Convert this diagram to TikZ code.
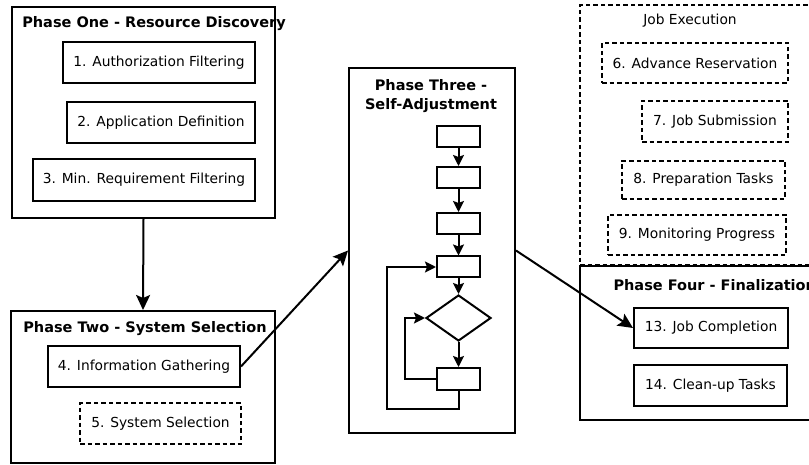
\documentclass[tikz,border=0pt]{standalone}
\usepackage{fontspec}
\setmainfont{DejaVu Sans}
\usetikzlibrary{arrows.meta,shapes.geometric}

\begin{document}
\begin{tikzpicture}[x=1pt, y=-1pt, line join=miter,
    every node/.style={font=\fontsize{13.8}{16}\selectfont},
    phase/.style={draw, line width=2pt, inner sep=0pt},
    task/.style={draw, line width=2pt, inner sep=0pt},
    optTask/.style={task, dash pattern=on 4.5pt off 3pt},
    title/.style={font=\fontsize{14.5}{19}\selectfont\bfseries},
    flow/.style={draw, line width=2pt, minimum width=43pt, minimum height=21pt, inner sep=0pt},
    link/.style={line width=2pt, -{Stealth[length=15pt,width=14pt,inset=3pt]}},
    flowLink/.style={line width=2pt, -{Stealth[length=11pt,width=11pt,inset=2pt]}}]
    \clip (0,0) rectangle (809,465);

    % Phase One
    \node[phase, minimum width=263pt, minimum height=211pt] (phaseOne) at (143.5,112.5) {};
    \node[title] (titleOne) at (154,24) {Phase One - Resource Discovery};
    \node[task, minimum width=192pt, minimum height=41pt] (authFilter) at (159,62.5) {1. Authorization Filtering};
    \node[task, minimum width=188pt, minimum height=41pt] (appDef) at (161,122.5) {2. Application Definition};
    \node[task, minimum width=222pt, minimum height=42pt] (minReq) at (144,180) {3. Min. Requirement Filtering};

    % Phase Two
    \node[phase, minimum width=264pt, minimum height=152pt] (phaseTwo) at (143,387) {};
    \node[title] (titleTwo) at (145,329) {Phase Two - System Selection};
    \node[task, minimum width=192pt, minimum height=41pt] (infoGather) at (144,366.5) {4. Information Gathering};
    \node[optTask, minimum width=161pt, minimum height=41pt] (sysSelect) at (160.5,423.5) {5. System Selection};

    % Phase Three
    \node[phase, minimum width=166pt, minimum height=365pt] (phaseThree) at (432,250.5) {};
    \node[title, align=center] (titleThree) at (431,96.5) {Phase Three -\\Self-Adjustment};
    \node[flow] (stepA) at (458.5,136.5) {};
    \node[flow] (stepB) at (458.5,177.5) {};
    \node[flow] (stepC) at (458.5,223.5) {};
    \node[flow] (stepD) at (458.5,267) {};
    \node[draw, diamond, line width=2pt, minimum width=65pt, minimum height=46pt, inner sep=0pt] (check) at (458.5,318) {};
    \node[flow, minimum height=22pt] (stepE) at (458.5,379) {};
    \draw[flowLink] (stepA) -- (stepB);
    \draw[flowLink] (stepB) -- (stepC);
    \draw[flowLink] (stepC) -- (stepD);
    \draw[flowLink] (stepD) -- (check);
    \draw[flowLink] (check) -- (stepE);
    \draw[flowLink] (stepE.west) -| (405,318) -- (check.west);
    \draw[flowLink] (stepE.south) |- (387,409) |- (stepD.west);

    % Job Execution
    \node[optTask, minimum width=250pt, minimum height=260pt] (jobExec) at (705,135) {};
    \node (titleExec) at (690,21) {Job Execution};
    \node[optTask, minimum width=186pt, minimum height=40pt] (advRes) at (695,63) {6. Advance Reservation};
    \node[optTask, minimum width=146pt, minimum height=41pt] (jobSub) at (715,121.5) {7. Job Submission};
    \node[optTask, minimum width=163pt, minimum height=38pt] (prepTasks) at (703.5,180) {8. Preparation Tasks};
    \node[optTask, minimum width=178pt, minimum height=40pt] (monProg) at (697,235) {9. Monitoring Progress};

    % Phase Four
    \node[phase, minimum width=250pt, minimum height=154pt] (phaseFour) at (705,343) {};
    \node[title, anchor=west] (titleFour) at (610,285) {Phase Four - Finalization};
    \node[task, minimum width=154pt, minimum height=40pt] (jobDone) at (711,328) {13. Job Completion};
    \node[task, minimum width=153pt, minimum height=41pt] (cleanUp) at (710.5,385.5) {14. Clean-up Tasks};

    % Connections between phases
    \draw[link] (phaseOne.south) -- (phaseTwo.north);
    \draw[link] (infoGather.east) -- (phaseThree.west);
    \draw[link] (phaseThree.east) -- (jobDone.west);
\end{tikzpicture}
\end{document}
